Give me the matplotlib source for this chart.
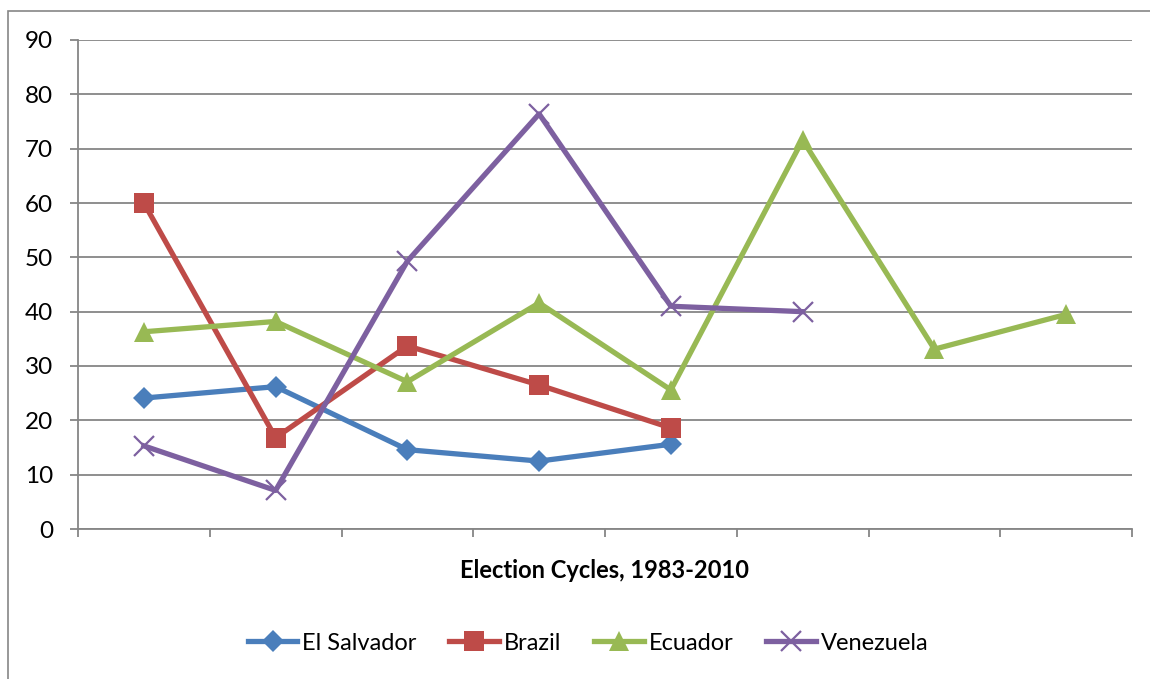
import matplotlib
matplotlib.use("Agg")
import matplotlib.pyplot as plt
from matplotlib.patches import Rectangle
import numpy as np

plt.rcParams['font.family'] = ['Lato', 'DejaVu Sans']

n_cycles = 8
series_names = ["El Salvador", "Brazil", "Ecuador", "Venezuela"]
el_salvador = [24.1, 26.2, 14.6, 12.5, 15.6]
brazil = [60.0, 16.8, 33.7, 26.5, 18.6]
ecuador = [36.3, 38.2, 27.1, 41.6, 25.6, 71.6, 33.1, 39.5]
venezuela = [15.3, 7.1, 49.3, 76.4, 41.0, 40.0]
y_ticks = [0, 10, 20, 30, 40, 50, 60, 70, 80, 90]

colors = ["#4A7EBB", "#BE4B48", "#98B954", "#7D60A0"]
markers = ["D", "s", "^", "x"]
msizes = [11, 14, 14, 14]

fig = plt.figure(figsize=(11.5, 6.79), dpi=100)
ax = fig.add_axes([78/1150, 1-529/679, (1132-78)/1150, (529-40)/679])

# chart border
fig.patches.append(Rectangle((8/1150, -0.1), 1.2, 1-11/679+0.1, transform=fig.transFigure,
                             fill=False, edgecolor="#868686", linewidth=1.2))

data = [el_salvador, brazil, ecuador, venezuela]
for name, vals, c, m, ms in zip(series_names, data, colors, markers, msizes):
    x = np.arange(len(vals)) + 0.5
    kw = dict(markeredgewidth=1.6) if m == "x" else dict(markeredgewidth=0)
    ax.plot(x, vals, color=c, linewidth=3.8, marker=m, markersize=ms,
            markerfacecolor=c, markeredgecolor=c, label=name, zorder=3, **kw)

ax.set_xlim(0, n_cycles)
ax.set_ylim(0, 90)
ax.set_yticks(y_ticks)
ax.set_xticks(np.arange(0, n_cycles + 1))
ax.set_xticklabels([])
ax.yaxis.grid(True, color="#868686", linewidth=1.3)
ax.set_axisbelow(True)
for s in ["top", "right"]:
    ax.spines[s].set_visible(False)
for s in ["left", "bottom"]:
    ax.spines[s].set_color("#868686")
    ax.spines[s].set_linewidth(1.3)
ax.tick_params(axis="both", color="#868686", width=1.3, length=6, labelsize=17.5)
ax.tick_params(axis="y", pad=12)
ax.set_xlabel("Election Cycles, 1983-2010", fontsize=17, fontweight="bold", labelpad=12)

leg = fig.legend(loc="center", bbox_to_anchor=(588/1150, 1-643/679), ncol=4, frameon=False,
                 fontsize=17, handlelength=2.1, columnspacing=1.4, handletextpad=0.2)

fig.savefig("out.png", dpi=100)
